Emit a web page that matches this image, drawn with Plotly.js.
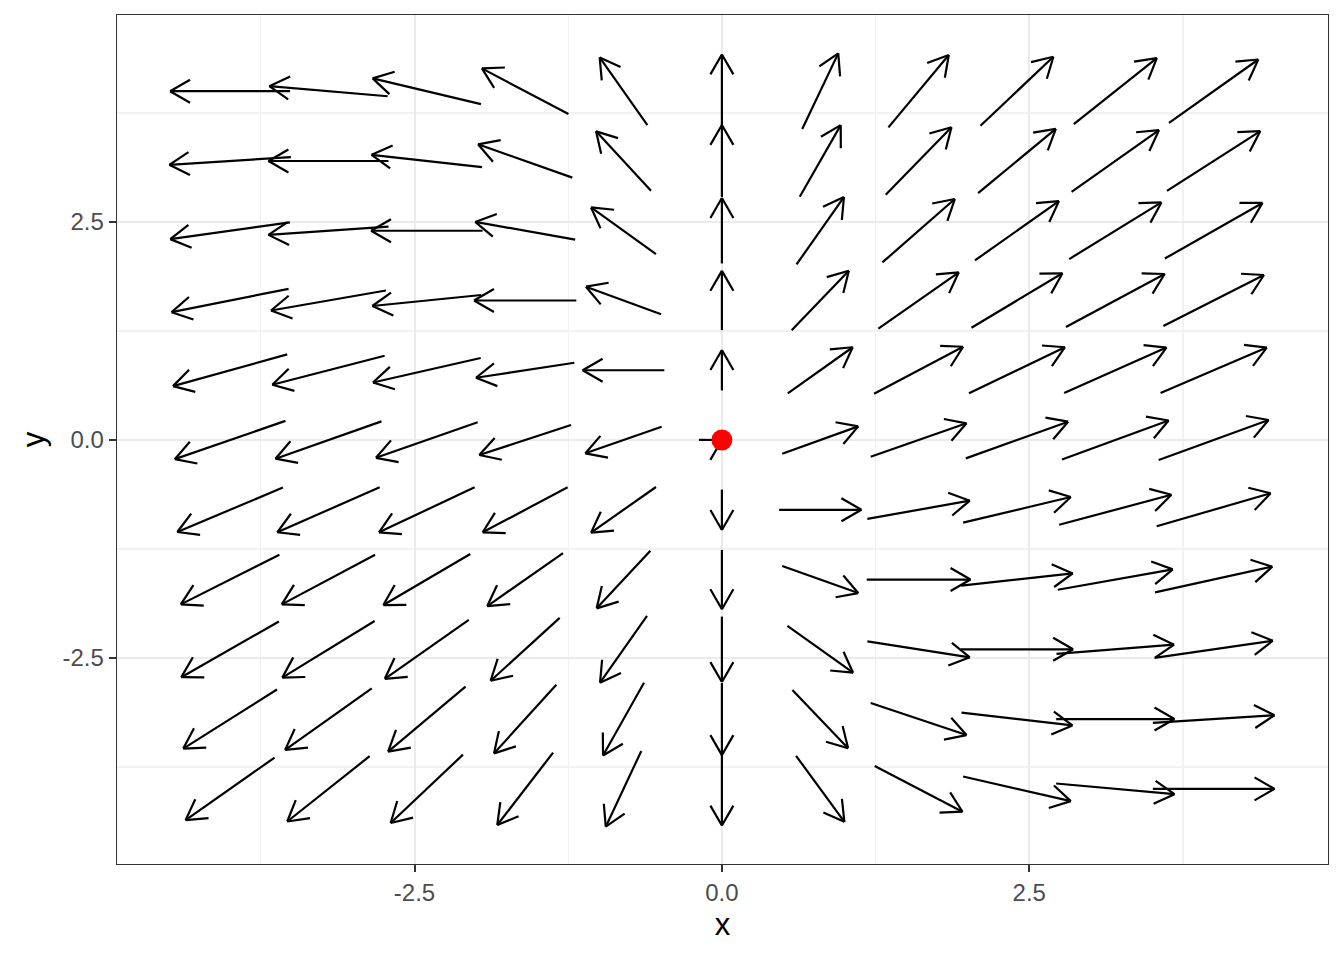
<!DOCTYPE html>
<html><head><meta charset="utf-8">
<script src="https://cdn.plot.ly/plotly-3.0.1.min.js"></script>
<style>html,body{margin:0;padding:0;background:#fff}</style>
</head><body><div id="chart" style="width:1344px;height:960px"></div>
<script>
// grid of arrow centres
const gridX = [-4, -3.2, -2.4, -1.6, -0.8, 0, 0.8, 1.6, 2.4, 3.2, 4];
const gridY = [4, 3.2, 2.4, 1.6, 0.8, 0, -0.8, -1.6, -2.4, -3.2, -4];
// arrow components (rows follow gridY, columns follow gridX)
const U = [
  [-0.976, -0.962, -0.881, -0.704, -0.388, 0, 0.293, 0.491, 0.593, 0.675, 0.726],
  [-0.989, -0.976, -0.898, -0.767, -0.447, 0, 0.333, 0.535, 0.632, 0.711, 0.759],
  [-0.973, -0.976, -0.907, -0.813, -0.528, 0, 0.385, 0.589, 0.683, 0.750, 0.794],
  [-0.951, -0.935, -0.886, -0.832, -0.611, 0, 0.465, 0.654, 0.740, 0.803, 0.818],
  [-0.929, -0.914, -0.876, -0.800, -0.664, 0, 0.528, 0.724, 0.780, 0.832, 0.864],
  [-0.900, -0.862, -0.827, -0.746, -0.620, 0.001, 0.618, 0.779, 0.832, 0.867, 0.894],
  [-0.859, -0.833, -0.778, -0.691, -0.528, 0, 0.669, 0.833, 0.876, 0.913, 0.927],
  [-0.802, -0.759, -0.707, -0.616, -0.437, 0, 0.618, 0.844, 0.907, 0.935, 0.954],
  [-0.794, -0.751, -0.683, -0.561, -0.382, 0, 0.534, 0.833, 0.913, 0.956, 0.962],
  [-0.762, -0.705, -0.629, -0.507, -0.333, 0, 0.453, 0.779, 0.902, 0.962, 0.989],
  [-0.724, -0.670, -0.588, -0.454, -0.289, 0, 0.393, 0.714, 0.876, 0.962, 0.989]
];
const V = [
  [0, 0.115, 0.295, 0.524, 0.776, 0.842, 0.868, 0.830, 0.791, 0.757, 0.727],
  [-0.088, 0, 0.141, 0.382, 0.680, 0.826, 0.822, 0.773, 0.737, 0.707, 0.685],
  [-0.192, -0.095, 0, 0.202, 0.534, 0.750, 0.772, 0.727, 0.680, 0.650, 0.638],
  [-0.268, -0.229, -0.126, 0, 0.317, 0.680, 0.683, 0.647, 0.624, 0.608, 0.585],
  [-0.364, -0.333, -0.280, -0.172, 0, 0.463, 0.528, 0.539, 0.528, 0.521, 0.521],
  [-0.439, -0.428, -0.408, -0.344, -0.305, 0.0008, 0.313, 0.383, 0.421, 0.447, 0.459],
  [-0.509, -0.516, -0.516, -0.516, -0.523, -0.463, 0, 0.209, 0.294, 0.344, 0.378],
  [-0.569, -0.569, -0.585, -0.608, -0.661, -0.680, -0.310, 0, 0.141, 0.233, 0.295],
  [-0.639, -0.649, -0.677, -0.720, -0.765, -0.750, -0.536, -0.183, 0, 0.107, 0.198],
  [-0.677, -0.706, -0.745, -0.787, -0.834, -0.826, -0.669, -0.367, -0.146, 0, 0.088],
  [-0.718, -0.749, -0.784, -0.830, -0.868, -0.842, -0.757, -0.525, -0.283, -0.122, 0]
];
const pointX = [0];
const pointY = [0];
const xTickVals = [-2.5, 0, 2.5];
const xTickText = ['-2.5', '0.0', '2.5'];
const yTickVals = [-2.5, 0, 2.5];
const yTickText = ['-2.5', '0.0', '2.5'];
const minorVals = [-3.75, -1.25, 1.25, 3.75];

const W = 1344, H = 960;
const M = {l: 117, r: 16, t: 15, b: 96, pad: 0};
const X_RANGE = [-4.92, 4.93];
const Y_RANGE = [-4.862, 4.874];
const kx = (W - M.l - M.r) / (X_RANGE[1] - X_RANGE[0]);
const ky = (H - M.t - M.b) / (Y_RANGE[1] - Y_RANGE[0]);
const HEAD_LEN = 23, HEAD_ANG = Math.PI / 6;

const sx = [], sy = [];
for (let j = 0; j < gridY.length; j++) {
  for (let i = 0; i < gridX.length; i++) {
    const u = U[j][i], v = V[j][i];
    const cx = gridX[i], cy = gridY[j];
    const x0 = cx - u / 2, y0 = cy - v / 2, x1 = cx + u / 2, y1 = cy + v / 2;
    sx.push(x0, x1, null); sy.push(y0, y1, null);
    const th = Math.atan2(v * ky, u * kx);
    for (const s of [1, -1]) {
      const a = th + Math.PI + s * HEAD_ANG;
      sx.push(x1, x1 + HEAD_LEN * Math.cos(a) / kx, null);
      sy.push(y1, y1 + HEAD_LEN * Math.sin(a) / ky, null);
    }
  }
}

const traces = [
  {type: 'scatter', mode: 'lines', x: sx, y: sy, line: {color: '#000000', width: 2.2},
   hoverinfo: 'skip', showlegend: false, connectgaps: false},
  {type: 'scatter', mode: 'markers', x: pointX, y: pointY,
   marker: {color: '#FF0000', size: 21, line: {width: 0}}, showlegend: false}
];

const axisBase = {
  showline: true, mirror: true, linecolor: '#333333', linewidth: 1.3,
  ticks: 'outside', ticklen: 7, tickwidth: 2, tickcolor: '#333333',
  showgrid: true, gridcolor: '#EBEBEB', gridwidth: 2, zeroline: false,
  tickfont: {family: 'Liberation Sans, Arial, sans-serif', size: 24, color: '#4D4D4D'},
  minor: {tickvals: minorVals, showgrid: true, gridcolor: '#F2F2F2', gridwidth: 1.2, ticks: ''},
  automargin: false, fixedrange: true
};

const layout = {
  width: W, height: H, margin: M,
  paper_bgcolor: '#FFFFFF', plot_bgcolor: '#FFFFFF',
  showlegend: false,
  xaxis: Object.assign({}, axisBase, {
    range: X_RANGE, tickmode: 'array', tickvals: xTickVals, ticktext: xTickText,
    title: {text: 'x', font: {family: 'Liberation Sans, Arial, sans-serif', size: 31, color: '#000000'}, standoff: 8}
  }),
  yaxis: Object.assign({}, axisBase, {
    range: Y_RANGE, tickmode: 'array', tickvals: yTickVals, ticktext: yTickText,
    title: {text: 'y', font: {family: 'Liberation Sans, Arial, sans-serif', size: 31, color: '#000000'}, standoff: 8}
  })
};

Plotly.newPlot('chart', traces, layout, {displayModeBar: false, staticPlot: true});
</script>
</body></html>
